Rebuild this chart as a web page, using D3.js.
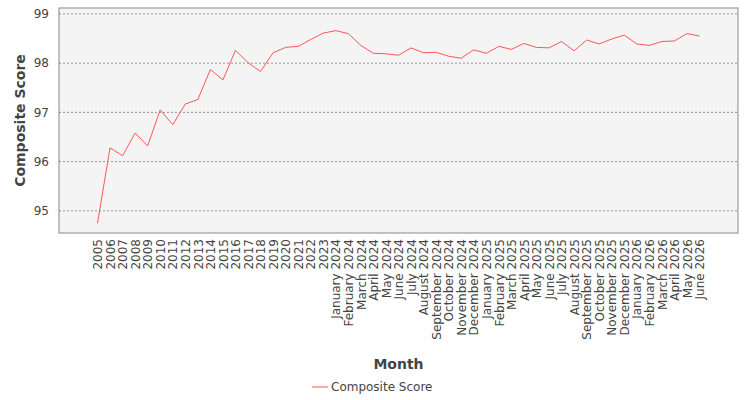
<!DOCTYPE html><html><head><script src="https://cdn.jsdelivr.net/npm/d3@7"></script>
<style>body{margin:0;background:#fff}text{font-family:"DejaVu Sans",sans-serif}</style></head><body>
<svg id="c" width="750" height="400"></svg>
<script>
const years=["2005","2006","2007","2008","2009","2010","2011","2012","2013","2014","2015","2016","2017","2018","2019","2020","2021","2022","2023"];
const monthNames=["January","February","March","April","May","June","July","August","September","October","November","December"];
const months=[];
for(const y of [2024,2025,2026])for(let i=0;i<12;i++){if(y===2026&&i>5)break;months.push(monthNames[i]+" "+y);}
const categories=years.concat(months);
const values=[94.75,96.28,96.12,96.58,96.32,97.05,96.75,97.17,97.26,97.87,97.66,98.26,98.01,97.83,98.21,98.32,98.34,98.48,98.61,
98.66,98.6,98.36,98.2,98.19,98.16,98.31,98.21,98.22,98.14,98.10,98.27,
98.2,98.34,98.28,98.4,98.32,98.31,98.44,98.25,98.47,98.39,98.49,98.57,
98.39,98.36,98.44,98.45,98.6,98.55];
const yTicks=[95,96,97,98,99];
const svg=d3.select("#c");
const L=59,R=738,T=8,B=233;
const x=d3.scalePoint().domain(categories).range([L,R]).padding(3.07);
const y=d3.scaleLinear().domain([94.55,99.12]).range([B,T]);
svg.append("rect").attr("x",L).attr("y",T).attr("width",R-L).attr("height",B-T).attr("fill","#f4f4f4").attr("stroke","#888");
svg.append("g").selectAll("line").data(yTicks).join("line").attr("x1",L).attr("x2",R).attr("y1",d=>y(d)).attr("y2",d=>y(d)).attr("stroke","#555").attr("stroke-width",0.6).attr("stroke-dasharray","2,2");
const ya=svg.append("g").attr("transform",`translate(${L-6},0)`).call(d3.axisLeft(y).tickValues(yTicks).tickFormat(d3.format("d")).tickSize(0).tickPadding(4));
ya.select(".domain").remove();
ya.selectAll("text").attr("font-size",12).attr("fill","#444").attr("font-family","DejaVu Sans");
const xa=svg.append("g").attr("transform",`translate(0,${B})`).call(d3.axisBottom(x).tickSize(0));
xa.select(".domain").remove();
xa.selectAll("text").attr("font-size",12).attr("fill","#444").attr("font-family","DejaVu Sans")
 .attr("transform","rotate(-90)").attr("text-anchor","end").attr("x",-6).attr("y",0).attr("dy","0.35em");
svg.append("path").datum(values).attr("fill","none").attr("stroke","#ff5555").attr("stroke-width",1)
 .attr("d",d3.line().x((d,i)=>x(categories[i])).y(d=>y(d)));
svg.append("text").attr("x",(L+R)/2).attr("y",369).attr("text-anchor","middle").attr("font-size",14).attr("font-weight","bold").attr("fill","#444").text("Month");
svg.append("text").attr("transform",`translate(25,${(T+B)/2}) rotate(-90)`).attr("text-anchor","middle").attr("font-size",14).attr("font-weight","bold").attr("fill","#444").text("Composite Score");
svg.append("line").attr("x1",312).attr("x2",328).attr("y1",387).attr("y2",387).attr("stroke","#ff5555");
svg.append("text").attr("x",331).attr("y",391).attr("font-size",12).attr("fill","#444").text("Composite Score");
</script></body></html>
